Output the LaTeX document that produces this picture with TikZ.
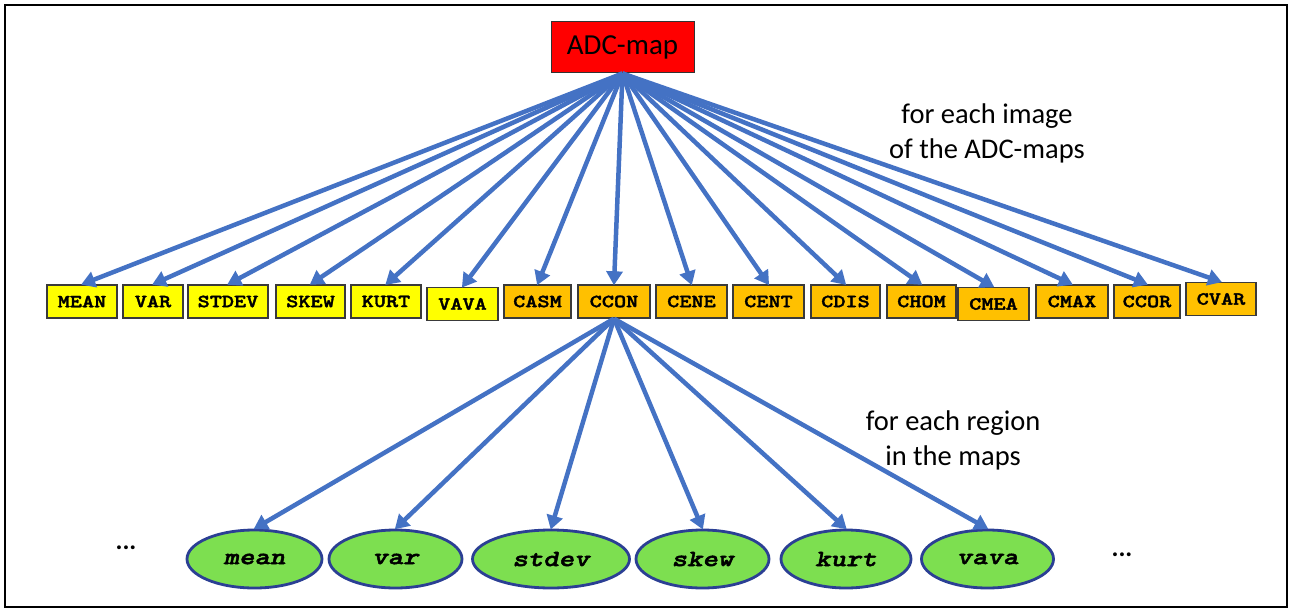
\documentclass[tikz,border=0pt]{standalone}
\usepackage{fontspec}
\setmainfont{Carlito}
\newfontfamily\codefont{lmmonolt10-bold.otf}[FakeStretch=1.25,FakeBold=2]
\newfontfamily\codefontit{lmmonolt10-boldoblique.otf}[FakeStretch=1.25,FakeBold=2]
\usetikzlibrary{arrows.meta,shapes.geometric}

\definecolor{arrowblue}{HTML}{4472C4}
\definecolor{boxyellow}{HTML}{FFFF00}
\definecolor{boxorange}{HTML}{FFC000}
\definecolor{boxedge}{HTML}{3A3A3A}
\definecolor{ovalgreen}{HTML}{7DDF50}
\definecolor{ovaledge}{HTML}{2B3F94}

\tikzset{
  link/.style={draw=arrowblue, line width=4.5pt,
    -{Triangle[length=14pt,width=16pt]}, shorten >=-1pt},
  featbox/.style={rectangle, draw=boxedge, line width=1.4pt,
    minimum height=33pt, inner sep=0pt,
    font=\codefont\fontsize{18.5}{20}\selectfont},
  firstorder/.style={featbox, fill=boxyellow},
  cooc/.style={featbox, fill=boxorange},
  region/.style={ellipse, draw=ovaledge, fill=ovalgreen, line width=2.8pt,
    minimum width=132pt, minimum height=58pt, inner sep=0pt,
    font=\codefontit\fontsize{23.5}{25}\selectfont},
  note/.style={align=center, font=\fontsize{28.5}{35}\selectfont},
  dots/.style={font=\bfseries\fontsize{26}{30}\selectfont}
}

\begin{document}
\begin{tikzpicture}[x=1pt,y=-1pt]
\useasboundingbox (0,0) rectangle (1293,610);
\draw[line width=2pt] (5,5) rectangle (1287,607);

% root
\node[rectangle, fill=red, draw=black!80, line width=1pt,
      minimum width=143pt, minimum height=51pt, inner sep=0pt,
      font=\fontsize{29}{32}\selectfont] (adc) at (622.5,47.5) {ADC-map};

% first-order statistics
\node[firstorder, minimum width=70pt] (b1) at (82,301.5) {MEAN};
\node[firstorder, minimum width=60pt] (b2) at (153,301.5) {VAR};
\node[firstorder, minimum width=80pt] (b3) at (228,301.5) {STDEV};
\node[firstorder, minimum width=69pt] (b4) at (310.5,301.5) {SKEW};
\node[firstorder, minimum width=70pt] (b5) at (386,301.5) {KURT};
\node[firstorder, minimum width=71pt] (b6) at (462.5,304) {VAVA};
% co-occurrence features
\node[cooc, minimum width=67pt] (b7) at (537.5,301.5) {CASM};
\node[cooc, minimum width=72pt] (b8) at (614,301.5) {CCON};
\node[cooc, minimum width=71pt] (b9) at (691.5,301.5) {CENE};
\node[cooc, minimum width=71pt] (b10) at (768.5,301.5) {CENT};
\node[cooc, minimum width=69pt] (b11) at (845.5,301.5) {CDIS};
\node[cooc, minimum width=69pt] (b12) at (921.5,301.5) {CHOM};
\node[cooc, minimum width=71pt] (b13) at (993.5,304) {CMEA};
\node[cooc, minimum width=72pt] (b14) at (1072,301.5) {CMAX};
\node[cooc, minimum width=66pt] (b15) at (1147,301.5) {CCOR};
\node[cooc, minimum width=70pt] (b16) at (1221,299) {CVAR};

% per-region statistics
\node[region, minimum width=135pt] (r1) at (254.5,559) {mean};
\node[region, minimum width=133pt] (r2) at (395.5,559) {var};
\node[region, minimum width=157pt] (r3) at (551,559) {stdev};
\node[region, minimum width=133pt] (r4) at (702.5,559) {skew};
\node[region, minimum width=130pt] (r5) at (846,559) {kurt};
\node[region, minimum width=132pt] (r6) at (987.5,559) {vava};

\node[dots] (dl) at (126,548) {...};
\node[dots] (dr) at (1122,555) {...};

\node[note] (t1) at (987,133) {for each image\\of the ADC-maps};
\node[note] (t2) at (953,440) {for each region\\in the maps};

% connectors
\foreach \b in {b1,b2,b3,b4,b5,b6,b7,b8,b9,b10,b11,b12,b13,b14,b15,b16}
  \draw[link] (adc.south) -- (\b.north);
\foreach \r in {r1,r2,r3,r4,r5,r6}
  \draw[link] (b8.south) -- (\r.north);
\end{tikzpicture}
\end{document}
